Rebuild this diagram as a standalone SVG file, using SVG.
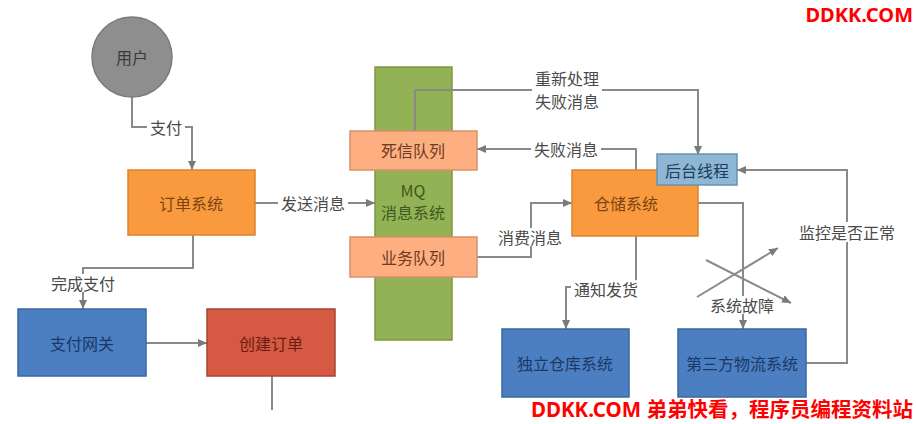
<svg xmlns="http://www.w3.org/2000/svg" width="916" height="424" viewBox="0 0 916 424">
<defs>
<marker id="arr" markerUnits="userSpaceOnUse" markerWidth="10" markerHeight="10" refX="9" refY="5" orient="auto">
<path d="M0,1 L9,5 L0,9 z" fill="#7a7a7a"/>
</marker>
<style>
.t{font-family:"Noto Sans CJK SC","Noto Sans",sans-serif;font-size:16px;text-anchor:middle;dominant-baseline:central}
.lbl{fill:#4a4a4a}
.ln{fill:none;stroke:#8a8a8a;stroke-width:2}
.bg{fill:#ffffff}
.org{fill:#FA9A3E;stroke:#D98430;stroke-width:1.5}
.sal{fill:#FDAF82;stroke:#D9906A;stroke-width:1.5}
.blu{fill:#4B7FC2;stroke:#3A67A0;stroke-width:1.5}
.wm{font-family:"Noto Sans","Noto Sans CJK SC",sans-serif;font-weight:bold;fill:#FF0000}
</style>
</defs>
<rect width="916" height="424" fill="#ffffff"/>

<g id="mq">
<rect x="375" y="67" width="77" height="273" fill="#93B155" stroke="#7C9A42" stroke-width="1.5"/>
<text class="t" x="413" y="190" font-size="11" fill="#3E5A1C">MQ</text>
<text class="t" x="413" y="212" fill="#3E5A1C">消息系统</text>
</g>

<g id="connectors">
<path class="ln" d="M132,97 V127 H192 V170" marker-end="url(#arr)"/>
<path class="ln" d="M255,203 H375" marker-end="url(#arr)"/>
<path class="ln" d="M193,235 V268 H83 V309" marker-end="url(#arr)"/>
<path class="ln" d="M146,343 H207" marker-end="url(#arr)"/>
<path class="ln" d="M272,376 V410"/>
<path class="ln" d="M415,131 V90 H698 V155" marker-end="url(#arr)"/>
<path class="ln" d="M636,170 V149 H477" marker-end="url(#arr)"/>
<path class="ln" d="M477,257 H531 V203 H572" marker-end="url(#arr)"/>
<path class="ln" d="M636,236 V287 H566 V329" marker-end="url(#arr)"/>
<path class="ln" d="M698,203 H743 V329" marker-end="url(#arr)"/>
<path class="ln" d="M697,297 L778,248" marker-end="url(#arr)"/>
<path class="ln" d="M706,260 L791,303" marker-end="url(#arr)"/>
<path class="ln" d="M806,363 H847 V170 H737" marker-end="url(#arr)"/>
<rect class="bg" x="147" y="118" width="38" height="18"/>
<text class="t lbl" x="166" y="127">支付</text>
<rect class="bg" x="278" y="194" width="70" height="18"/>
<text class="t lbl" x="313" y="203">发送消息</text>
<rect class="bg" x="48" y="274" width="70" height="18"/>
<text class="t lbl" x="83" y="283">完成支付</text>
<rect class="bg" x="532" y="68" width="70" height="42"/>
<text class="t lbl" x="567" y="78" font-size="15">重新处理</text>
<text class="t lbl" x="567" y="101" font-size="15">失败消息</text>
<rect class="bg" x="531" y="140" width="70" height="18"/>
<text class="t lbl" x="566" y="149">失败消息</text>
<rect class="bg" x="495" y="228" width="70" height="18"/>
<text class="t lbl" x="530" y="237">消费消息</text>
<rect class="bg" x="571" y="280" width="70" height="18"/>
<text class="t lbl" x="606" y="289">通知发货</text>
<rect class="bg" x="708" y="296" width="68" height="18"/>
<text class="t lbl" x="742" y="305">系统故障</text>
<rect class="bg" x="797" y="222" width="100" height="20"/>
<text class="t lbl" x="847" y="232">监控是否正常</text>
</g>

<g id="user">
<circle cx="132" cy="57" r="40" fill="#8E8E8E" stroke="#7a7a7a" stroke-width="1.5"/>
<text class="t" x="132" y="57" fill="#3a3a3a">用户</text>
</g>
<g id="order">
<rect class="org" x="128" y="170" width="127" height="65"/>
<text class="t" x="191" y="203" fill="#7A4412">订单系统</text>
</g>
<g id="dlq">
<rect class="sal" x="350" y="131" width="127" height="39"/>
<text class="t" x="413" y="150" fill="#6E3A1E">死信队列</text>
</g>
<g id="bizq">
<rect class="sal" x="350" y="237" width="127" height="40"/>
<text class="t" x="413" y="257" fill="#6E3A1E">业务队列</text>
</g>
<g id="warehouse">
<rect class="org" x="572" y="170" width="126" height="66"/>
<text class="t" x="626" y="203" fill="#7A4412">仓储系统</text>
</g>
<g id="bgthread">
<rect x="657" y="154" width="80" height="31" fill="#8DB7D5" stroke="#6A91AE" stroke-width="1.5"/>
<text class="t" x="697" y="170" fill="#1F3E5C">后台线程</text>
</g>
<g id="paygw">
<rect class="blu" x="18" y="309" width="128" height="67"/>
<text class="t" x="82" y="343" fill="#1C3866">支付网关</text>
</g>
<g id="createorder">
<rect x="207" y="309" width="128" height="67" fill="#D65A43" stroke="#A84433" stroke-width="1.5"/>
<text class="t" x="271" y="343" fill="#6A1E12">创建订单</text>
</g>
<g id="indwh">
<rect class="blu" x="502" y="329" width="127" height="68"/>
<text class="t" x="565" y="363" fill="#1C3866">独立仓库系统</text>
</g>
<g id="logistics">
<rect class="blu" x="678" y="329" width="128" height="68"/>
<text class="t" x="742" y="363" fill="#1C3866">第三方物流系统</text>
</g>

<text class="wm" x="913" y="22" font-size="20" text-anchor="end">DDKK.COM</text>
<text class="wm" x="913" y="417" font-size="20.5" text-anchor="end">DDKK.COM 弟弟快看，程序员编程资料站</text>
</svg>
